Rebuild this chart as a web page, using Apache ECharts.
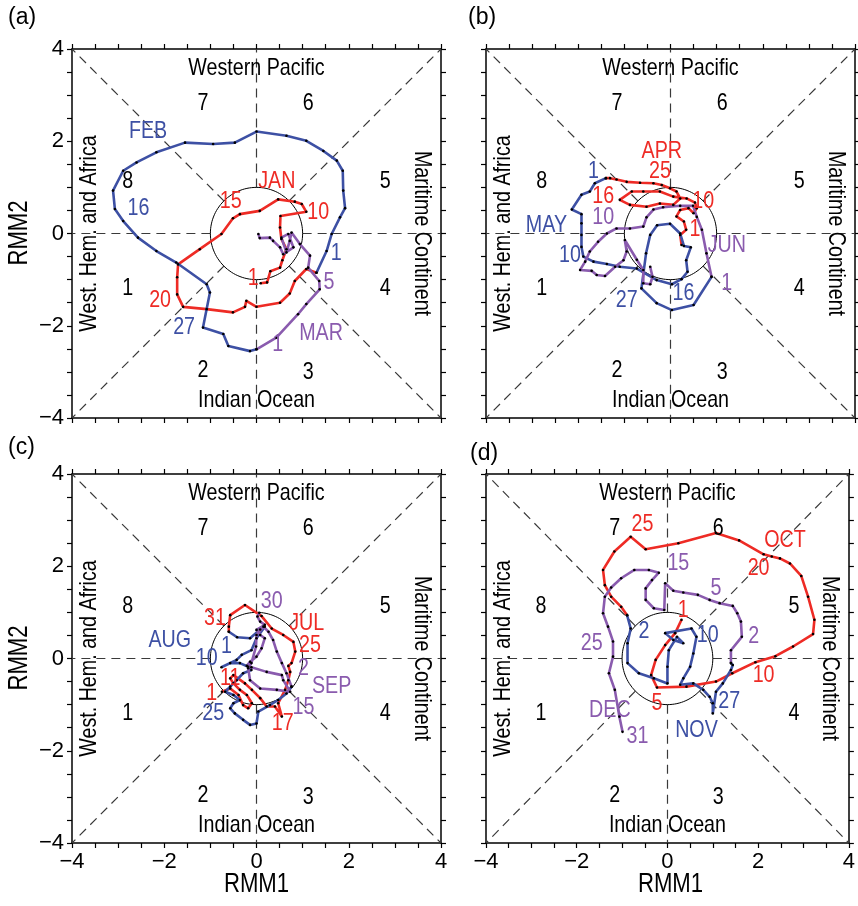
<!DOCTYPE html>
<html><head><meta charset="utf-8">
<script src="https://cdn.jsdelivr.net/npm/echarts@6/dist/echarts.min.js"></script>
<style>html,body{margin:0;padding:0;background:#fff}#c{width:858px;height:906px}</style>
</head><body><div id="c"></div>
<script>
// ---------- data (RMM1, RMM2) ----------
const tickValues = [-4, -2, 0, 2, 4];
// panel (a)
const jan = [[0.09,-1.08],[0.23,-1.06],[0.30,-0.82],[0.51,-0.74],[0.56,-0.58],[0.65,-0.34],[0.54,-0.12],[0.51,0.13],[0.52,0.38],[1.08,0.47],[0.98,0.64],[0.83,0.69],[0.47,0.74],[0.07,0.49],[-0.36,0.42],[-0.51,0.33],[-0.76,-0.01],[-1.23,-0.34],[-1.70,-0.67],[-1.72,-0.95],[-1.72,-1.32],[-1.59,-1.59],[-1.08,-1.64],[-0.51,-1.71],[-0.25,-1.59],[-0.22,-1.46],[0.00,-1.59],[0.51,-1.50],[0.72,-1.30],[0.83,-1.03],[1.08,-0.77],[1.30,-0.85]];
const feb = [[1.30,-0.85],[1.52,-0.38],[1.63,-0.01],[1.81,0.35],[1.92,0.55],[1.88,0.93],[1.87,1.36],[1.74,1.58],[1.45,1.79],[1.08,2.01],[0.65,2.12],[0.00,2.21],[-0.47,1.97],[-0.94,1.94],[-1.55,1.97],[-2.17,1.76],[-2.60,1.54],[-2.89,1.36],[-3.11,0.93],[-3.07,0.53],[-2.89,0.27],[-2.57,-0.09],[-2.17,-0.38],[-1.74,-0.63],[-1.08,-1.10],[-1.01,-1.28],[-1.16,-2.04],[-0.72,-2.18],[-0.61,-2.44],[-0.14,-2.55],[0.00,-2.51]];
const mar = [[0.00,-2.51],[0.43,-2.26],[0.90,-1.75],[1.08,-1.53],[1.37,-1.21],[1.36,-1.03],[1.12,-0.74],[1.16,-0.48],[0.94,-0.23],[0.76,0.02],[0.72,-0.16],[0.65,-0.41],[0.54,-0.09],[0.69,-0.01],[0.80,-0.30],[0.58,-0.45],[0.51,-0.30],[0.36,-0.16],[0.29,-0.09],[0.07,-0.10],[0.04,-0.01]];
// panel (b)
const apr = [[0.24,-0.25],[0.21,-0.03],[0.34,0.08],[0.29,0.26],[0.13,0.37],[0.21,0.51],[0.39,0.55],[0.50,0.44],[0.57,0.55],[0.53,0.67],[0.35,0.76],[0.06,0.80],[-0.23,0.91],[-0.59,0.91],[-0.84,0.91],[-1.10,0.73],[-0.88,0.62],[-0.52,0.58],[-0.23,0.65],[0.06,0.62],[0.21,0.76],[0.13,0.91],[-0.01,0.98],[-0.19,1.05],[-0.37,1.09],[-0.66,1.10],[-0.95,1.12],[-1.17,1.17],[-1.31,1.20],[-1.40,1.20]];
const may = [[-1.40,1.20],[-1.64,1.09],[-1.75,0.91],[-1.93,0.84],[-2.14,0.52],[-1.93,0.42],[-1.93,0.22],[-1.93,-0.03],[-1.93,-0.29],[-1.89,-0.50],[-1.67,-0.61],[-1.38,-0.66],[-1.10,-0.72],[-0.73,-0.76],[-0.30,-1.01],[0.03,-1.10],[0.24,-0.99],[0.37,-0.83],[0.34,-0.58],[0.44,-0.30],[0.29,-0.27],[0.21,0.00],[-0.01,0.21],[-0.29,0.18],[-0.44,-0.03],[-0.53,-0.43],[-0.63,-1.19],[-0.30,-1.51],[0.03,-1.66],[0.50,-1.55],[0.89,-0.94]];
const jun = [[0.89,-0.94],[0.78,-0.43],[0.68,0.08],[0.57,0.36],[0.49,0.60],[0.21,0.60],[-0.16,0.57],[-0.37,0.52],[-0.52,0.35],[-0.59,0.15],[-0.88,0.11],[-1.17,0.11],[-1.38,0.00],[-1.57,-0.18],[-1.75,-0.39],[-1.85,-0.61],[-1.96,-0.79],[-1.71,-0.81],[-1.60,-0.90],[-1.42,-0.92],[-1.20,-0.72],[-1.02,-0.58],[-0.95,-0.39],[-0.99,-0.14],[-0.73,-0.57],[-0.59,-0.79],[-0.59,-1.08],[-0.44,-1.10],[-0.39,-0.94],[-0.44,-0.72]];
// panel (c)
const jul = [[-0.75,-0.72],[-0.57,-0.65],[-0.39,-0.79],[-0.29,-1.01],[-0.18,-1.08],[-0.10,-0.97],[-0.21,-0.79],[-0.36,-0.68],[-0.50,-0.54],[-0.57,-0.43],[-0.50,-0.36],[-0.25,-0.54],[-0.10,-0.68],[0.08,-0.86],[0.22,-1.04],[0.40,-1.04],[0.55,-1.26],[0.47,-0.97],[0.62,-0.68],[0.69,-0.47],[0.73,-0.29],[0.69,-0.16],[0.76,-0.10],[0.84,0.15],[0.80,0.36],[0.58,0.51],[0.33,0.65],[0.11,0.92],[-0.25,1.16],[-0.57,0.94],[-0.60,0.69],[-0.60,0.58]];
const aug = [[-0.60,0.58],[-0.42,0.46],[-0.14,0.44],[0.08,0.63],[0.18,0.69],[0.00,0.44],[-0.11,0.18],[-0.32,0.08],[-0.43,-0.03],[-0.76,-0.19],[-0.57,-0.10],[-0.36,-0.10],[-0.18,-0.18],[-0.11,-0.25],[-0.29,-0.32],[-0.43,-0.47],[-0.57,-0.61],[-0.68,-0.72],[-0.50,-0.79],[-0.36,-0.90],[-0.50,-0.97],[-0.57,-1.08],[-0.47,-1.19],[-0.29,-1.33],[-0.14,-1.44],[0.00,-1.41],[0.04,-1.15],[0.29,-1.01],[0.47,-0.90],[0.65,-0.76],[0.76,-0.61]];
const sep = [[0.76,-0.61],[0.65,-0.32],[0.55,-0.10],[0.44,0.15],[0.36,0.40],[0.26,0.58],[0.15,0.69],[0.00,0.51],[-0.01,0.26],[-0.11,-0.10],[-0.18,-0.21],[-0.14,-0.47],[0.08,-0.65],[0.44,-0.68],[0.73,-0.72],[0.58,-0.47],[0.55,-0.36],[0.22,-0.29],[-0.11,-0.19],[-0.21,-0.16],[-0.14,-0.07],[0.00,0.04],[0.11,0.22],[0.18,0.44],[0.08,0.51],[0.00,0.62],[0.18,0.73],[0.08,0.80],[0.02,0.91],[0.06,0.99]];
// panel (d)
const oct = [[0.31,0.84],[0.17,0.55],[-0.05,0.29],[-0.26,-0.03],[-0.36,-0.36],[-0.23,-0.63],[0.42,-0.61],[1.07,-0.50],[1.43,-0.32],[1.94,-0.08],[2.38,0.05],[2.77,0.26],[3.21,0.53],[3.24,0.84],[3.10,1.34],[2.95,1.79],[2.70,2.06],[2.48,2.17],[2.30,2.21],[2.12,2.26],[1.58,2.56],[1.07,2.72],[0.24,2.50],[-0.48,2.37],[-0.81,2.64],[-1.17,2.32],[-1.42,1.92],[-1.38,1.59],[-1.24,1.34],[-1.02,1.12],[-0.89,0.94]];
const nov = [[-0.89,0.94],[-0.81,0.65],[-0.88,0.33],[-0.88,-0.10],[-0.63,-0.32],[-0.30,-0.43],[0.00,-0.54],[0.00,-0.18],[0.03,0.18],[0.21,0.47],[0.35,0.33],[0.13,0.40],[-0.05,0.55],[0.53,0.65],[0.64,0.47],[0.57,0.11],[0.50,-0.18],[0.35,-0.43],[0.28,-0.57],[0.57,-0.54],[0.79,-0.68],[0.93,-0.83],[1.00,-0.97],[1.00,-1.19],[1.07,-0.72],[1.22,-0.54],[1.40,-0.25],[1.44,-0.14],[1.40,-0.10]];
const dec = [[1.40,-0.10],[1.40,0.18],[1.64,0.47],[1.62,0.80],[1.54,0.98],[1.44,1.14],[1.15,1.20],[0.93,1.27],[0.67,1.38],[0.35,1.43],[0.13,1.47],[-0.05,1.63],[-0.07,1.05],[-0.30,1.09],[-0.48,1.27],[-0.48,1.52],[-0.34,1.70],[-0.19,1.86],[-0.41,1.92],[-0.73,1.92],[-1.02,1.74],[-1.24,1.54],[-1.38,1.34],[-1.42,0.98],[-1.31,0.69],[-1.20,0.37],[-1.20,0.04],[-1.29,-0.32],[-1.16,-0.68],[-1.06,-1.26],[-0.99,-1.59]];

// annotation texts: [text, RMM1, RMM2, colour key]
const labelsA = [['FEB',-2.35,2.22,'b'],['JAN',0.44,1.12,'r'],['15',-0.56,0.70,'r'],['10',1.34,0.46,'r'],['16',-2.56,0.55,'b'],['1',1.73,-0.43,'b'],['5',1.57,-1.05,'p'],['1',-0.07,-0.97,'r'],['20',-2.09,-1.44,'r'],['27',-1.57,-2.03,'b'],['MAR',1.40,-2.16,'p'],['1',0.46,-2.40,'p']];
const labelsB = [['APR',-0.19,1.78,'r'],['25',-0.23,1.34,'r'],['16',-1.46,0.80,'r'],['1',-1.67,1.34,'b'],['10',0.71,0.69,'r'],['1',0.53,0.08,'r'],['MAY',-2.69,0.18,'b'],['10',-1.46,0.36,'p'],['JUN',1.22,-0.25,'p'],['10',-2.18,-0.47,'b'],['1',1.22,-1.08,'p'],['27',-0.95,-1.44,'b'],['16',0.28,-1.30,'b']];
const labelsC = [['30',0.33,1.23,'p'],['31',-0.90,0.87,'r'],['JUL',1.09,0.76,'r'],['AUG',-1.88,0.40,'b'],['25',1.16,0.29,'r'],['1',-0.65,0.26,'b'],['10',-1.08,0.00,'b'],['2',1.02,-0.21,'p'],['11',-0.57,-0.43,'r'],['SEP',1.63,-0.61,'p'],['1',-0.97,-0.76,'r'],['15',1.02,-1.05,'p'],['25',-0.94,-1.19,'b'],['17',0.57,-1.40,'r']];
const labelsD = [['25',-0.55,2.90,'r'],['OCT',2.59,2.57,'r'],['15',0.24,2.06,'p'],['20',2.01,1.96,'r'],['5',1.07,1.52,'p'],['1',0.35,1.05,'r'],['2',-0.52,0.58,'b'],['10',0.89,0.51,'b'],['2',1.90,0.47,'p'],['25',-1.67,0.33,'p'],['DEC',-1.27,-1.12,'p'],['10',2.12,-0.36,'r'],['5',-0.23,-0.97,'r'],['27',1.36,-0.94,'b'],['NOV',0.64,-1.55,'b'],['31',-0.66,-1.69,'p']];
const phaseLabels = [['1',-2.79,-1.18],['2',-1.16,-2.96],['3',1.12,-3.0],['4',2.79,-1.18],['5',2.79,1.12],['6',1.12,2.83],['7',-1.16,2.83],['8',-2.79,1.12]];
const regionLabels = [['Western Pacific',0,3.59,0],['Indian Ocean',0,-3.61,0],['West. Hem. and Africa',-3.62,0,90],['Maritime Continent',3.57,0,-90]];
const panelTags = ['(a)','(b)','(c)','(d)'];
const axisNameX = 'RMM1', axisNameY = 'RMM2';

// ---------- styling ----------
const FONT = '"Liberation Sans",Arial,sans-serif';
const NARROW = 0.82;
const COL = {r:'#ee2b25', b:'#3d50a4', p:'#8a5bae'};
const panels = [
  {left:72, top:49, months:[[jan,'r'],[feb,'b'],[mar,'p']], labels:labelsA, xl:false, yl:true},
  {left:486, top:49, months:[[apr,'r'],[may,'b'],[jun,'p']], labels:labelsB, xl:false, yl:false},
  {left:72, top:474, months:[[jul,'r'],[aug,'b'],[sep,'p']], labels:labelsC, xl:true, yl:true},
  {left:486, top:474, months:[[oct,'r'],[nov,'b'],[dec,'p']], labels:labelsD, xl:true, yl:false}
];
const SIZE = 369;
const fmt = v => v < 0 ? '\u2212' + Math.abs(v) : String(v);

const grid=[], xAxis=[], yAxis=[], series=[], graphic=[];
function axisBase(gi, pos, showLabel){
  return {
    type:'value', gridIndex:gi, position:pos, min:-4, max:4, interval:2,
    axisLine:{show:true, onZero:false, lineStyle:{color:'#000', width:1.5}},
    axisTick:{show:true, inside:false, length:5, lineStyle:{color:'#000', width:1.2}},
    minorTick:{show:true, splitNumber:4, length:5, lineStyle:{color:'#000', width:1.2}},
    splitLine:{show:false}, minorSplitLine:{show:false},
    axisLabel:{show:showLabel, formatter:fmt, color:'#000', fontSize:22, fontFamily:FONT, margin:8, showMinLabel:true, showMaxLabel:true}
  };
}
const circle = [];
for (let k=0;k<=120;k++){ const t=k/120*2*Math.PI; circle.push([Math.cos(t), Math.sin(t)]); }
const r2 = Math.SQRT1_2;
const guides = [
  [[1,0],[4,0]],[[-1,0],[-4,0]],[[0,1],[0,4]],[[0,-1],[0,-4]],
  [[r2,r2],[4,4]],[[-r2,r2],[-4,4]],[[r2,-r2],[4,-4]],[[-r2,-r2],[-4,-4]]
];

function textSeries(xi, yi, items, size){
  return {
    type:'custom', coordinateSystem:'cartesian2d', xAxisIndex:xi, yAxisIndex:yi, silent:true, z:5, clip:false,
    data: items.map(it=>[it.x, it.y]),
    renderItem: (params, api) => {
      const it = items[params.dataIndex];
      const pt = api.coord([api.value(0), api.value(1)]);
      return {type:'text', x:pt[0], y:pt[1], rotation:(it.rot||0)*Math.PI/180, scaleX:NARROW,
        style:{text:it.text, fill:it.color, font:size+'px '+FONT, align:'center', verticalAlign:'middle'}};
    }
  };
}

panels.forEach((p,i)=>{
  grid.push({left:p.left, top:p.top, width:SIZE, height:SIZE});
  xAxis.push(axisBase(i,'bottom',p.xl)); xAxis.push(axisBase(i,'top',false));
  yAxis.push(axisBase(i,'left',p.yl)); yAxis.push(axisBase(i,'right',false));
  const xi = 2*i, yi = 2*i;
  series.push({type:'lines', coordinateSystem:'cartesian2d', xAxisIndex:xi, yAxisIndex:yi, silent:true, z:1,
    lineStyle:{color:'#3a3a3a', width:1.2, type:[9,6], opacity:1},
    data: guides.map(g=>({coords:g}))});
  series.push({type:'line', xAxisIndex:xi, yAxisIndex:yi, data:circle, symbol:'none', silent:true, z:1,
    lineStyle:{color:'#000', width:1}});
  p.months.forEach(([d,c])=>{
    series.push({type:'line', xAxisIndex:xi, yAxisIndex:yi, data:d, silent:true, z:3,
      symbol:'circle', symbolSize:2.6, showAllSymbol:true,
      itemStyle:{color:'#000', borderWidth:0},
      lineStyle:{color:COL[c], width:2.6}});
  });
  series.push(textSeries(xi, yi, phaseLabels.map(a=>({text:a[0], x:a[1], y:a[2], color:'#000'})), 24));
  series.push(textSeries(xi, yi, regionLabels.map(a=>({text:a[0], x:a[1], y:a[2], rot:a[3], color:'#000'})), 24));
  series.push(textSeries(xi, yi, p.labels.map(a=>({text:a[0], x:a[1], y:a[2], color:COL[a[3]]})), 24));
});
const tagPos = [[8,6],[468,6],[8,436],[470,442]];
panelTags.forEach((t,i)=>{
  graphic.push({type:'text', left:tagPos[i][0], top:tagPos[i][1], silent:true,
    style:{text:t, fill:'#000', font:'23px '+FONT}});
});
// axis titles
[[256.5,885],[670.5,885]].forEach(([x,y])=>graphic.push({type:'text', x, y, scaleX:NARROW, silent:true,
  style:{text:axisNameX, fill:'#000', font:'27px '+FONT, align:'center', verticalAlign:'middle'}}));
[[20,233],[20,658]].forEach(([x,y])=>graphic.push({type:'text', x, y, rotation:Math.PI/2, scaleX:NARROW, silent:true,
  style:{text:axisNameY, fill:'#000', font:'27px '+FONT, align:'center', verticalAlign:'middle'}}));

const chart = echarts.init(document.getElementById('c'), null, {renderer:'canvas'});
chart.setOption({animation:false, backgroundColor:'#fff', grid, xAxis, yAxis, series, graphic});
</script></body></html>
